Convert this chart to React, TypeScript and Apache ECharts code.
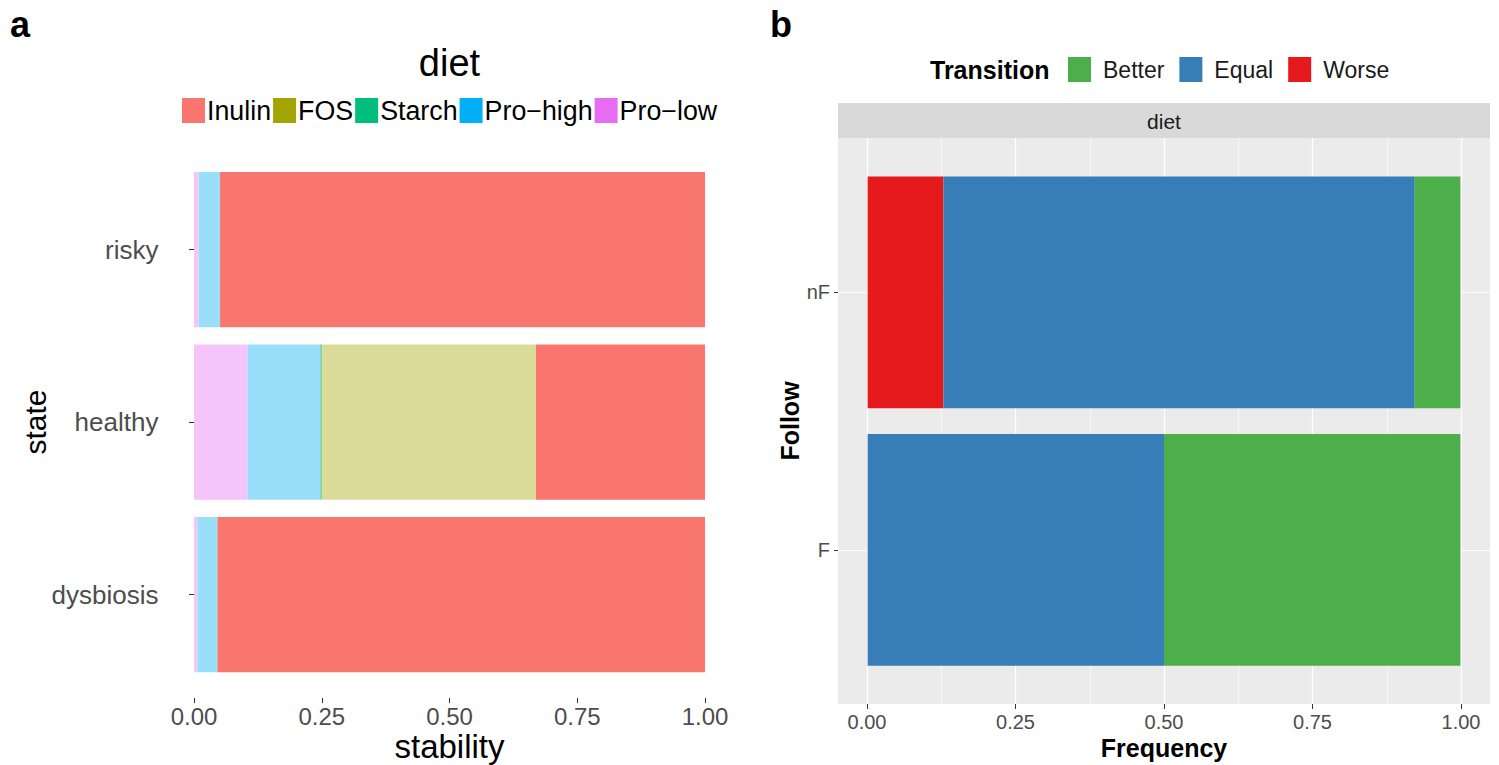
import React, { useEffect, useRef } from "react";
import * as echarts from "echarts";

// ---------- Panel a data ----------
const stateCats = ["dysbiosis", "healthy", "risky"];
const dietSeriesNames = ["Pro\u2212low", "Pro\u2212high", "Starch", "FOS", "Inulin"];
const proLowVals = [0.0065, 0.105, 0.009];
const proHighVals = [0.0395, 0.142, 0.042];
const starchVals = [0, 0.004, 0];
const fosVals = [0, 0.418, 0];
const inulinVals = [0.954, 0.331, 0.949];
const dietLegendOrder = ["Inulin", "FOS", "Starch", "Pro\u2212high", "Pro\u2212low"];
const stabilityTicks = [0, 0.25, 0.5, 0.75, 1];

// ---------- Panel b data ----------
const followCats = ["F", "nF"];
const transitionSeriesNames = ["Worse", "Equal", "Better"];
const worseVals = [0, 0.128];
const equalVals = [0.5, 0.795];
const betterVals = [0.5, 0.077];
const transitionLegendOrder = ["Better", "Equal", "Worse"];

// ---------- Styles ----------
const FONT = "Liberation Sans, Arial, sans-serif";
const dietFull: Record<string, string> = {
  Inulin: "#F8766D",
  FOS: "#A3A500",
  Starch: "#00BF7D",
  "Pro\u2212high": "#00B0F6",
  "Pro\u2212low": "#E76BF3",
};
const dietBar: Record<string, string> = {
  Inulin: "#F8766D",
  FOS: "#DADB99",
  Starch: "#7FCFA5",
  "Pro\u2212high": "#99DFFA",
  "Pro\u2212low": "#F5C4FA",
};
const transColor: Record<string, string> = {
  Better: "#4DAF4A",
  Equal: "#377EB8",
  Worse: "#E41A1C",
};

export default function App() {
  const ref = useRef<HTMLDivElement>(null);
  useEffect(() => {
    if (!ref.current) return;
    const chart = echarts.init(ref.current, null, { renderer: "svg" });
    const dietValues: Record<string, number[]> = {
      "Pro\u2212low": proLowVals,
      "Pro\u2212high": proHighVals,
      Starch: starchVals,
      FOS: fosVals,
      Inulin: inulinVals,
    };
    const transValues: Record<string, number[]> = {
      Worse: worseVals,
      Equal: equalVals,
      Better: betterVals,
    };
    const fmt = (v: number) => v.toFixed(2);
    const option: any = {
      animation: false,
      backgroundColor: "#ffffff",
      textStyle: { fontFamily: FONT },
      grid: [
        { left: 194, top: 163.25, width: 511, height: 517.5 },
        { left: 838, top: 138, width: 652, height: 566, show: true, backgroundColor: "#EBEBEB", borderWidth: 0, z: -1 },
        { left: 867, top: 138, width: 594, height: 566 },
        { left: 838, top: 292, width: 652, height: 258 },
        { left: 838, top: 163.5, width: 652, height: 515 },
      ],
      xAxis: [
        {
          gridIndex: 0, type: "value", min: 0, max: 1, interval: 0.25, offset: 17.25,
          axisLine: { show: false },
          axisTick: { show: true, length: 5, lineStyle: { color: "#333333", width: 1 }, customValues: stabilityTicks },
          axisLabel: { fontSize: 24, color: "#4D4D4D", margin: 6, formatter: fmt, fontFamily: FONT },
          splitLine: { show: false },
        },
        { gridIndex: 1, type: "value", show: false },
        {
          gridIndex: 2, type: "value", min: 0, max: 1, interval: 0.25, z: 1,
          axisLine: { show: false },
          axisTick: { show: true, length: 5, lineStyle: { color: "#333333", width: 1 } },
          axisLabel: { fontSize: 20, color: "#4D4D4D", margin: 8, formatter: fmt, fontFamily: FONT },
          splitLine: { show: true, lineStyle: { color: "#FFFFFF", width: 1.2 } },
          minorTick: { show: false, splitNumber: 2 },
          minorSplitLine: { show: true, lineStyle: { color: "#FFFFFF", width: 0.6 } },
        },
        { gridIndex: 3, type: "value", show: false },
        { gridIndex: 4, type: "value", min: -0.05, max: 1.05, show: false },
      ],
      yAxis: [
        {
          gridIndex: 0, type: "category", data: stateCats, offset: 25.55,
          axisLine: { show: false },
          axisTick: { show: true, length: 5, alignWithLabel: true, lineStyle: { color: "#333333" } },
          axisLabel: { fontSize: 26, color: "#4D4D4D", margin: 10, fontFamily: FONT },
          splitLine: { show: false },
        },
        { gridIndex: 1, type: "value", show: false },
        { gridIndex: 2, type: "value", show: false },
        {
          gridIndex: 3, type: "category", data: followCats, boundaryGap: false, z: 1,
          axisLine: { show: false },
          axisTick: { show: true, length: 4, lineStyle: { color: "#333333" } },
          axisLabel: { fontSize: 20, color: "#4D4D4D", margin: 8, fontFamily: FONT },
          splitLine: { show: true, lineStyle: { color: "#FFFFFF", width: 1.2 } },
        },
        { gridIndex: 4, type: "category", data: followCats, show: false },
      ],
      legend: [
        {
          data: dietLegendOrder.map((n) => ({ name: n, itemStyle: { color: dietFull[n] } })),
          left: 182, top: 97, orient: "horizontal", padding: 0,
          itemWidth: 23, itemHeight: 25, itemGap: 2, icon: "rect", selectedMode: false,
          textStyle: { fontSize: 26.8, color: "#000000", fontFamily: FONT, padding: [0, 0, 0, -3] },
        },
        {
          data: transitionLegendOrder.map((n) => ({ name: n, itemStyle: { color: transColor[n] } })),
          left: 1068, top: 57, orient: "horizontal", padding: 0,
          itemWidth: 23, itemHeight: 25, itemGap: 15, icon: "rect", selectedMode: false,
          textStyle: { fontSize: 23, color: "#1A1A1A", fontFamily: FONT, padding: [0, 0, 0, 7] },
        },
      ],
      series: [
        ...dietSeriesNames.map((n) => ({
          name: n, type: "bar", stack: "diet", xAxisIndex: 0, yAxisIndex: 0,
          barCategoryGap: "10%", data: dietValues[n],
          itemStyle: { color: dietBar[n] },
        })),
        ...transitionSeriesNames.map((n) => ({
          name: n, type: "bar", stack: "trans", xAxisIndex: 4, yAxisIndex: 4,
          barCategoryGap: "10%", data: transValues[n],
          itemStyle: { color: transColor[n] },
        })),
      ],
      graphic: [
        { type: "text", left: 10, top: 6, style: { text: "a", font: `bold 36px ${FONT}`, fill: "#000" } },
        { type: "text", left: 770, top: 6, style: { text: "b", font: `bold 36px ${FONT}`, fill: "#000" } },
        { type: "text", x: 449.5, y: 63, style: { text: "diet", font: `38px ${FONT}`, fill: "#000", align: "center", verticalAlign: "middle" } },
        { type: "text", x: 449.5, y: 746, style: { text: "stability", font: `33px ${FONT}`, fill: "#000", align: "center", verticalAlign: "middle" } },
        { type: "text", x: 35, y: 422, rotation: Math.PI / 2, style: { text: "state", font: `30px ${FONT}`, fill: "#000", align: "center", verticalAlign: "middle" } },
        { type: "text", x: 930, y: 70, style: { text: "Transition", font: `bold 25px ${FONT}`, fill: "#000", align: "left", verticalAlign: "middle" } },
        { type: "rect", shape: { x: 838, y: 103, width: 652, height: 35 }, style: { fill: "#D9D9D9" } },
        { type: "text", x: 1164, y: 121, style: { text: "diet", font: `21px ${FONT}`, fill: "#1A1A1A", align: "center", verticalAlign: "middle" } },
        { type: "text", x: 1164, y: 748, style: { text: "Frequency", font: `bold 25px ${FONT}`, fill: "#000", align: "center", verticalAlign: "middle" } },
        { type: "text", x: 790, y: 421, rotation: Math.PI / 2, style: { text: "Follow", font: `bold 25px ${FONT}`, fill: "#000", align: "center", verticalAlign: "middle" } },
      ],
    };
    chart.setOption(option);
    return () => chart.dispose();
  }, []);
  return (
    <div
      ref={ref}
      style={{ position: "fixed", left: 0, top: 0, width: 1499, height: 765, background: "#fff" }}
    />
  );
}
